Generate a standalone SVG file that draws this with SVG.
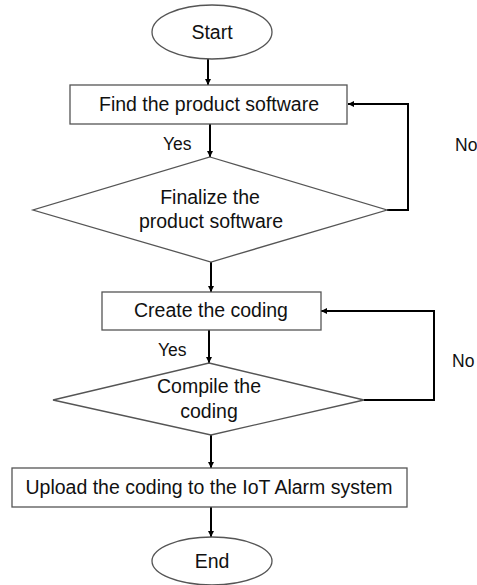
<svg xmlns="http://www.w3.org/2000/svg" width="477" height="585" viewBox="0 0 477 585">
<style>
.shape{fill:#fff;stroke:#555;stroke-width:1.3}
.t{font-family:"Liberation Sans",Arial,sans-serif;font-size:19.5px;fill:#111;text-anchor:middle}
.lbl{font-family:"Liberation Sans",Arial,sans-serif;font-size:17.5px;fill:#111}
.c{fill:none;stroke:#000;stroke-width:2}
</style>
<defs>
<marker id="ah" viewBox="0 0 6 6" refX="6" refY="3" markerWidth="6" markerHeight="6" markerUnits="userSpaceOnUse" orient="auto">
<path d="M0,0 L6,3 L0,6 z" fill="#000"/>
</marker>
</defs>
<rect width="477" height="585" fill="#fff"/>
<g id="connectors">
<line class="c" x1="208" y1="59" x2="208" y2="85" marker-end="url(#ah)"/>
<line class="c" x1="210" y1="124" x2="210" y2="157" marker-end="url(#ah)"/>
<polyline class="c" points="387,210 408,210 408,104 348,104" marker-end="url(#ah)"/>
<line class="c" x1="211" y1="262" x2="211" y2="292" marker-end="url(#ah)"/>
<line class="c" x1="209" y1="330" x2="209" y2="363" marker-end="url(#ah)"/>
<polyline class="c" points="364,400 434,400 434,311 321,311" marker-end="url(#ah)"/>
<line class="c" x1="211" y1="435" x2="211" y2="468" marker-end="url(#ah)"/>
<line class="c" x1="211" y1="507" x2="211" y2="537" marker-end="url(#ah)"/>
</g>
<g id="start">
<ellipse class="shape" cx="212" cy="32" rx="60" ry="27"/>
<text class="t" x="212" y="39">Start</text>
</g>
<g id="find">
<rect class="shape" x="70" y="85" width="277" height="39"/>
<text class="t" x="209" y="111">Find the product software</text>
</g>
<g id="finalize">
<polygon class="shape" points="210,157 387,210 211,262 33,210"/>
<text class="t" x="210" y="204">Finalize the</text>
<text class="t" x="211" y="228">product software</text>
</g>
<g id="create">
<rect class="shape" x="102" y="292" width="219" height="38"/>
<text class="t" x="211" y="317">Create the coding</text>
</g>
<g id="compile">
<polygon class="shape" points="209,363 364,400 211,435 53,400"/>
<text class="t" x="209" y="393">Compile the</text>
<text class="t" x="209" y="418">coding</text>
</g>
<g id="upload">
<rect class="shape" x="12" y="468" width="395" height="39"/>
<text class="t" x="209" y="494">Upload the coding to the IoT Alarm system</text>
</g>
<g id="end">
<ellipse class="shape" cx="212" cy="561" rx="60" ry="24"/>
<text class="t" x="212" y="568">End</text>
</g>
<g id="labels">
<text class="lbl" x="163" y="150">Yes</text>
<text class="lbl" x="455" y="151">No</text>
<text class="lbl" x="158" y="356">Yes</text>
<text class="lbl" x="452" y="367">No</text>
</g>
</svg>
